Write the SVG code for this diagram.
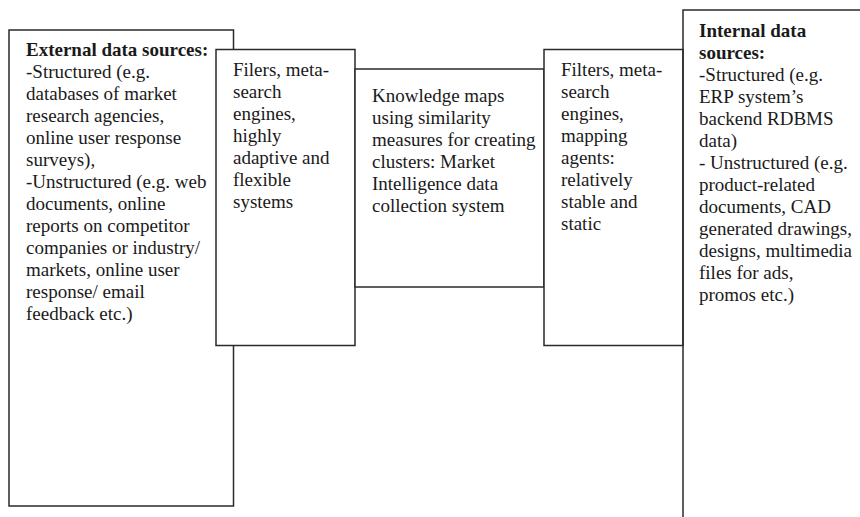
<svg xmlns="http://www.w3.org/2000/svg" width="860" height="517" viewBox="0 0 860 517">
  <style>
    .box { fill: #ffffff; stroke: #2a2a2a; stroke-width: 1.5; }
    .open { fill: none; stroke: #2a2a2a; stroke-width: 1.5; }
    text { font-family: "Liberation Serif", Tinos, "DejaVu Serif", serif; font-size: 19px; fill: #1a1a1a; }
    .b { font-weight: bold; }
  </style>
  <rect width="860" height="517" fill="#ffffff"/>

  <!-- external data sources -->
  <g id="external">
    <rect class="box" x="9" y="30" width="224.5" height="476"/>
    <text font-family="Liberation Serif, serif">
      <tspan class="b" x="26" y="56">External data sources:</tspan>
      <tspan x="26" y="78">-Structured (e.g.</tspan>
      <tspan x="26" y="100">databases of market</tspan>
      <tspan x="26" y="122">research agencies,</tspan>
      <tspan x="26" y="144">online user response</tspan>
      <tspan x="26" y="166">surveys),</tspan>
      <tspan x="26" y="188">-Unstructured (e.g. web</tspan>
      <tspan x="26" y="210">documents, online</tspan>
      <tspan x="26" y="232">reports on competitor</tspan>
      <tspan x="26" y="254">companies or industry/</tspan>
      <tspan x="26" y="276">markets, online user</tspan>
      <tspan x="26" y="298">response/ email</tspan>
      <tspan x="26" y="320">feedback etc.)</tspan>
    </text>
  </g>

  <!-- adaptive filters -->
  <g id="filers">
    <rect class="box" x="216" y="49.5" width="139" height="296"/>
    <text font-family="Liberation Serif, serif">
      <tspan x="233" y="76">Filers, meta-</tspan>
      <tspan x="233" y="98">search</tspan>
      <tspan x="233" y="120">engines,</tspan>
      <tspan x="233" y="142">highly</tspan>
      <tspan x="233" y="164">adaptive and</tspan>
      <tspan x="233" y="186">flexible</tspan>
      <tspan x="233" y="208">systems</tspan>
    </text>
  </g>

  <!-- knowledge maps -->
  <g id="knowledge">
    <rect class="box" x="355" y="69" width="189" height="218"/>
    <text font-family="Liberation Serif, serif">
      <tspan x="372" y="102">Knowledge maps</tspan>
      <tspan x="372" y="124">using similarity</tspan>
      <tspan x="372" y="146">measures for creating</tspan>
      <tspan x="372" y="168">clusters: Market</tspan>
      <tspan x="372" y="190">Intelligence data</tspan>
      <tspan x="372" y="212">collection system</tspan>
    </text>
  </g>

  <!-- stable filters -->
  <g id="filters">
    <rect class="box" x="544" y="49.5" width="139" height="296"/>
    <text font-family="Liberation Serif, serif">
      <tspan x="561" y="76">Filters, meta-</tspan>
      <tspan x="561" y="98">search</tspan>
      <tspan x="561" y="120">engines,</tspan>
      <tspan x="561" y="142">mapping</tspan>
      <tspan x="561" y="164">agents:</tspan>
      <tspan x="561" y="186">relatively</tspan>
      <tspan x="561" y="208">stable and</tspan>
      <tspan x="561" y="230">static</tspan>
    </text>
  </g>

  <!-- internal data sources -->
  <g id="internal">
    <rect class="open" x="683" y="10" width="200" height="600"/>
    <text font-family="Liberation Serif, serif">
      <tspan class="b" x="699" y="37">Internal data</tspan>
      <tspan class="b" x="699" y="59">sources:</tspan>
      <tspan x="699" y="81">-Structured (e.g.</tspan>
      <tspan x="699" y="103">ERP system’s</tspan>
      <tspan x="699" y="125">backend RDBMS</tspan>
      <tspan x="699" y="147">data)</tspan>
      <tspan x="699" y="169">- Unstructured (e.g.</tspan>
      <tspan x="699" y="191">product-related</tspan>
      <tspan x="699" y="213">documents, CAD</tspan>
      <tspan x="699" y="235">generated drawings,</tspan>
      <tspan x="699" y="257">designs, multimedia</tspan>
      <tspan x="699" y="279">files for ads,</tspan>
      <tspan x="699" y="301">promos etc.)</tspan>
    </text>
  </g>
</svg>
